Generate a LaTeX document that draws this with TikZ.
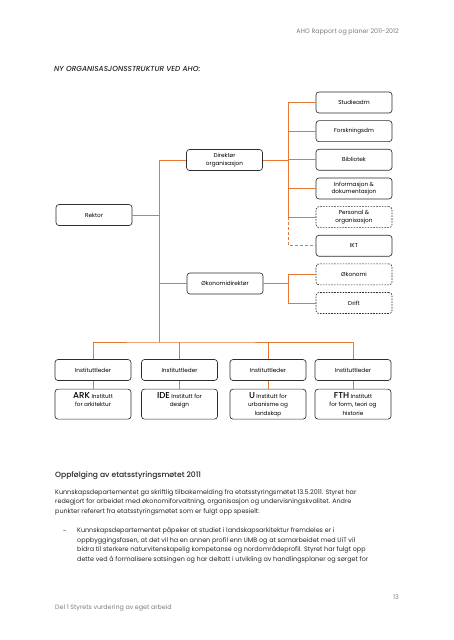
\documentclass[tikz,border=0pt]{standalone}
\usepackage{fontspec}
\setmainfont{Poppins}
\newfontfamily\medfont{Poppins}[UprightFont={* Medium}, ItalicFont={* Medium Italic}]
\usetikzlibrary{positioning}
\definecolor{ahoorange}{RGB}{232,119,52}
\definecolor{boxline}{RGB}{45,45,45}
\definecolor{pagegray}{RGB}{125,125,125}
\newcommand{\boxfont}{\fontsize{5.7}{7.2}\selectfont}
\newcommand{\bodyfont}{\fontsize{6.4}{9.4}\selectfont}
\newcommand{\instname}[1]{{\medfont\fontsize{8.6}{9}\selectfont #1}}
\newcommand{\insttext}[1]{\parbox[t][24pt][t]{74pt}{\centering #1}}

\tikzset{
	orgbox/.style={draw=boxline, rounded corners=3pt, line width=0.65pt,
		minimum width=76pt, minimum height=21pt, align=center, inner sep=1pt, font=\boxfont},
	dashbox/.style={orgbox, dash pattern=on 1.6pt off 1.2pt},
	instbox/.style={orgbox, minimum height=30pt, inner sep=0pt,
		font=\fontsize{5.7}{8.8}\selectfont},
	link/.style={draw=ahoorange, line width=0.9pt},
	pagetext/.style={inner sep=0pt, text=black!85},
}

\begin{document}
\begin{tikzpicture}[x=1pt,y=-1pt]
	\useasboundingbox[fill=white] (0,0) rectangle (453,640);

	% page head
	\node[pagetext, anchor=east, text=pagegray, font=\fontsize{6.3}{7}\selectfont] (header) at (399,32)
		{AHO Rapport og planer 2011-2012};
	\node[pagetext, anchor=west, font=\medfont\itshape\fontsize{7.3}{8}\selectfont] (title) at (54,69)
		{NY ORGANISASJONSSTRUKTUR VED AHO:};

	% top level
	\node[orgbox] (rektor) at (94,215) {Rektor};
	\node[orgbox] (dirorg) at (224.5,160) {Direktør\\organisasjon};
	\node[orgbox] (okdir) at (225,283.5) {Økonomidirektør};

	% staff units
	\node[orgbox] (studadm) at (354,102.5) {Studieadm};
	\node[orgbox, below=7pt of studadm] (forskadm) {Forskningsdm};
	\node[orgbox, below=7pt of forskadm] (bibl) {Bibliotek};
	\node[orgbox, below=7pt of bibl] (infodok) {Informasjon \&\\dokumentasjon};
	\node[dashbox, below=7pt of infodok] (persorg) {Personal \&\\organisasjon};
	\node[orgbox, below=7pt of persorg] (ikt) {IKT};
	\node[dashbox, below=7pt of ikt] (okonomi) {Økonomi};
	\node[dashbox, below=7pt of okonomi] (drift) {Drift};

	% departments
	\node[orgbox] (leder1) at (93,370) {Instituttleder};
	\node[orgbox] (leder2) at (179.5,370) {Instituttleder};
	\node[orgbox] (leder3) at (268,370) {Instituttleder};
	\node[orgbox] (leder4) at (353,370) {Instituttleder};
	\node[instbox, below=8pt of leder1] (ark) {\insttext{\instname{ARK} Institutt\\for arkitektur}};
	\node[instbox, below=8pt of leder2] (ide) {\insttext{\instname{IDE} Institutt for\\design}};
	\node[instbox, below=8pt of leder3] (urb) {\insttext{\instname{U} Institutt for\\urbanisme og\\landskap}};
	\node[instbox, below=8pt of leder4] (fth) {\insttext{\instname{FTH} Institutt\\for form, teori og\\historie}};

	% orange lines
	\coordinate (trunk) at (159,342);
	\coordinate (spine) at (288.5,0);
	\draw[link] (dirorg.west) -| (trunk);
	\draw[link] (rektor.east) -- (rektor.east -| trunk);
	\draw[link] (okdir.west) -- (okdir.west -| trunk);
	\draw[link] (leder1.north) |- (trunk) -| (leder4.north);
	\draw[link] (leder2.north) -- (leder2.north |- trunk);
	\draw[link] (leder3.north) -- (leder3.north |- trunk);
	\foreach \top/\bottom in {leder1/ark,leder2/ide,leder3/urb,leder4/fth}
		\draw[link] (\top.south) -- (\bottom.north);

	\draw[link] (studadm.west) -| (persorg.west -| spine) -- (persorg.west);
	\foreach \unit in {dirorg.east,forskadm.west,bibl.west,infodok.west}
		\draw[link] (\unit) -- (\unit -| spine);
	\draw[link, dash pattern=on 3pt off 2pt] (persorg.west -| spine) |- (ikt.west);

	\draw[link] (okonomi.west) -| (drift.west -| spine) -- (drift.west);
	\draw[link] (okdir.east) -- (okdir.east -| spine);

	% text below the chart
	\node[pagetext, anchor=west, font=\medfont\fontsize{7.6}{9}\selectfont] (heading) at (55,476)
		{Oppfølging av etatsstyringsmøtet 2011};
	\node[pagetext, anchor=north west, align=left, font=\bodyfont] (para) at (55,489.5)
		{Kunnskapsdepartementet ga skriftlig tilbakemelding fra etatsstyringsmøtet 13.5.2011. Styret har\\
		redegjort for arbeidet med økonomiforvaltning, organisasjon og undervisningskvalitet. Andre\\
		punkter referert fra etatsstyringsmøtet som er fulgt opp spesielt:};
	\node[pagetext, font=\bodyfont] (dash) at (65,532) {-};
	\node[pagetext, anchor=north west, align=left, font=\bodyfont] (point) at (77,527.5)
		{Kunnskapsdepartementet påpeker at studiet i landskapsarkitektur fremdeles er i\\
		oppbyggingsfasen, at det vil ha en annen profil enn UMB og at samarbeidet med UiT vil\\
		bidra til sterkere naturvitenskapelig kompetanse og nordområdeprofil. Styret har fulgt opp\\
		dette ved å formalisere satsingen og har deltatt i utvikling av handlingsplaner og sørget for};

	% page foot
	\node[pagetext, anchor=east, text=pagegray, font=\fontsize{6.3}{7}\selectfont] (pagenum) at (399,597) {13};
	\node[pagetext, anchor=west, text=pagegray, font=\fontsize{6.3}{7}\selectfont] (footer) at (55,608)
		{Del 1 Styrets vurdering av eget arbeid};
\end{tikzpicture}
\end{document}
